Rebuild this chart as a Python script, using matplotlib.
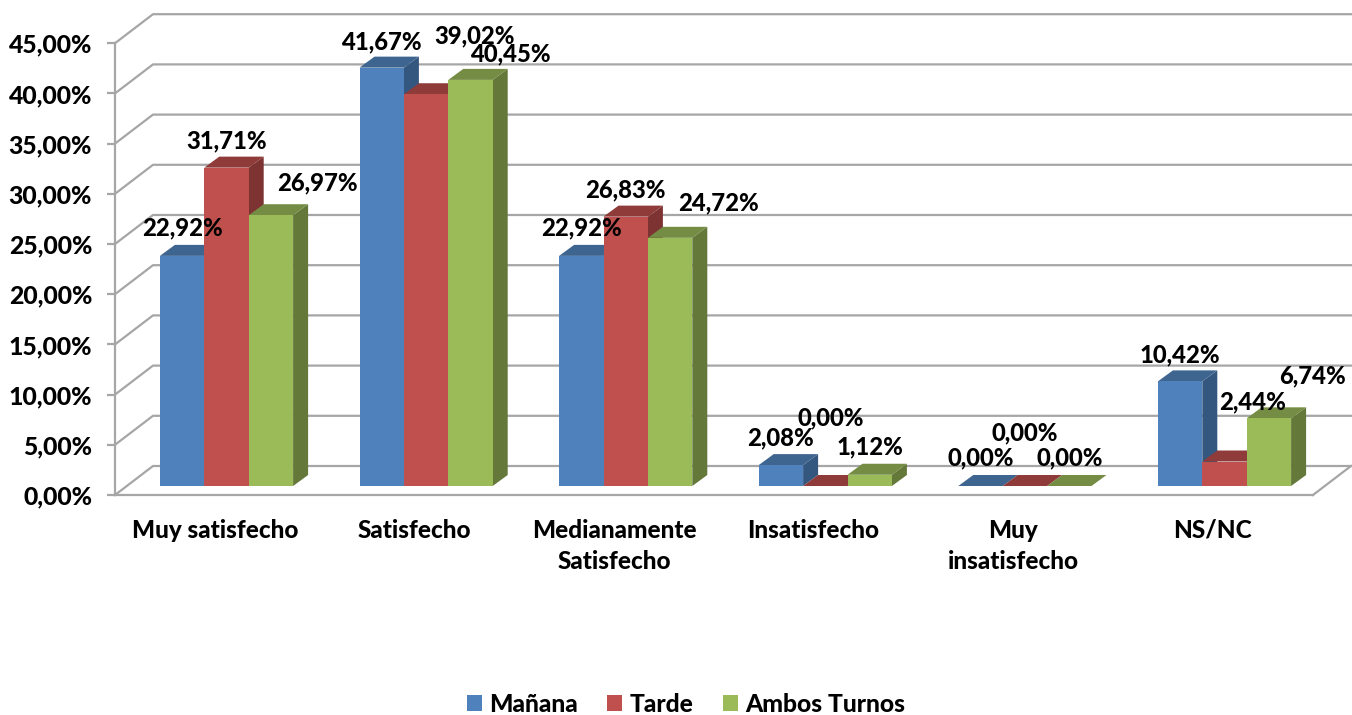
#!/usr/bin/env python3

import numpy as np
from matplotlib import pyplot as plt

categories = ["Muy satisfecho", "Satisfecho", "Medianamente\nSatisfecho",
              "Insatisfecho", "Muy\ninsatisfecho", "NS/NC"]
series_names = ["Mañana", "Tarde", "Ambos Turnos"]
manana = [22.92, 41.67, 22.92, 2.08, 0.00, 10.42]
tarde = [31.71, 39.02, 26.83, 0.00, 0.00, 2.44]
ambos = [26.97, 40.45, 24.72, 1.12, 0.00, 6.74]
y_ticks = [0, 5, 10, 15, 20, 25, 30, 35, 40, 45]

front = ["#4F81BD", "#C0504D", "#9BBB59"]
top = ["#3E6490", "#8E3B39", "#748C43"]
side = ["#34577F", "#7D3331", "#64783A"]
grid_color = "#A6A6A6"
text_font = "Lato"
text_weight = 900

# pixel sizes of the picture
px_per_cat = 199.6
px_per_val = 10.04
bar_px = 44.4
first_bar_center = 226.5
left_px, floor_px = 115, 495
floor_shift = (floor_px - 486) / px_per_val  # axis floor sits in front of the bars

# where each data label sits, relative to the top of its bar, in pixels
label_shift = [
    [(0, 28), (0, 27), (47, 32)],
    [(0, 26), (48, 58), (40, 26)],
    [(0, 28), (0, 27), (48, 35)],
    [(0, 27), (5, 68), (0, 28)],
    [(0, 28), (0, 53), (0, 28)],
    [(0, 27), (28, 60), (44, 42)],
]


def fmt(value):
    return f"{value:.2f}%".replace(".", ",")


def to_x(px):
    return px / px_per_cat


def to_y(px):
    return px / px_per_val


fig = plt.figure(figsize=(13.52, 7.15), dpi=100)
ax = fig.add_axes([left_px / 1352, (715 - floor_px) / 715,
                   (1352 - left_px) / 1352, floor_px / 715])
ax.set_xlim((left_px - first_bar_center) / px_per_cat,
            (1352 - first_bar_center) / px_per_cat)
ax.set_ylim(-floor_shift, 486 / px_per_val)
ax.patch.set_visible(False)

x_left = ax.get_xlim()[0]
x_right = x_left + to_x(1313 - left_px)
grid_dx, grid_dy = to_x(38), to_y(29)

for tick in y_ticks:
    y = tick - floor_shift
    ax.plot([x_left, x_left + grid_dx, x_left + grid_dx + to_x(1198)],
            [y, y + grid_dy, y + grid_dy],
            color=grid_color, lw=1.6, zorder=1, clip_on=False)
ax.plot([x_right, x_right + grid_dx], [-floor_shift, -floor_shift + grid_dy],
        color=grid_color, lw=1.6, zorder=1, clip_on=False)

bar_w = to_x(bar_px)
depth_x, depth_y = to_x(15), to_y(11)
values = [manana, tarde, ambos]

handles = []
for s, vals in enumerate(values):
    xs = np.arange(len(categories)) + (s - 1) * bar_w
    for x, v in zip(xs, vals):
        x0, x1 = x - bar_w / 2, x + bar_w / 2
        z = 3 + s * 0.1
        ax.fill([x1, x1 + depth_x, x1 + depth_x, x1],
                [0, depth_y, v + depth_y, v], color=side[s], lw=0, zorder=z)
        ax.fill([x0, x1, x1 + depth_x, x0 + depth_x],
                [v, v, v + depth_y, v + depth_y], color=top[s], lw=0, zorder=z)
    bars = ax.bar(xs, vals, width=bar_w, color=front[s], lw=0, zorder=3 + s * 0.1,
                  label=series_names[s])
    handles.append(bars)

for c in range(len(categories)):
    for s, vals in enumerate(values):
        shift = label_shift[c][s]
        ax.annotate(fmt(vals[c]), (c + (s - 1) * bar_w, vals[c]),
                    xytext=(shift[0], shift[1]), textcoords="offset pixels",
                    ha="center", va="center", fontsize=17.2, fontweight=text_weight,
                    family=text_font, color="black", zorder=6)

for name in ["top", "right"]:
    ax.spines[name].set_visible(False)
for name in ["left", "bottom"]:
    ax.spines[name].set_color(grid_color)
    ax.spines[name].set_linewidth(1.6)
ax.spines["bottom"].set_bounds(x_left, x_right)
ax.spines["left"].set_bounds(-floor_shift, 45 - floor_shift)

ax.set_yticks([t - floor_shift for t in y_ticks])
ax.set_yticklabels([fmt(t) for t in y_ticks], fontsize=17.8, fontweight=text_weight,
                   family=text_font)
ax.tick_params(axis="y", length=5.5, width=1.6, color=grid_color, pad=11)

ax.set_xticks(x_left + (np.arange(len(categories)) + 0.5) * to_x(199.6))
ax.set_xticklabels(categories, fontsize=17.5, fontweight=text_weight, family=text_font,
                   linespacing=1.42)
ax.tick_params(axis="x", length=0, pad=17)

fig.legend(handles=handles, loc="center", bbox_to_anchor=(686 / 1352, 1 - 704 / 715),
           ncol=3, frameon=False, handlelength=0.6, handleheight=0.6,
           handletextpad=0.3, columnspacing=1.2, borderpad=0, borderaxespad=0,
           prop={"family": text_font, "weight": text_weight, "size": 17.7})

fig.savefig("out.png", dpi=100)
